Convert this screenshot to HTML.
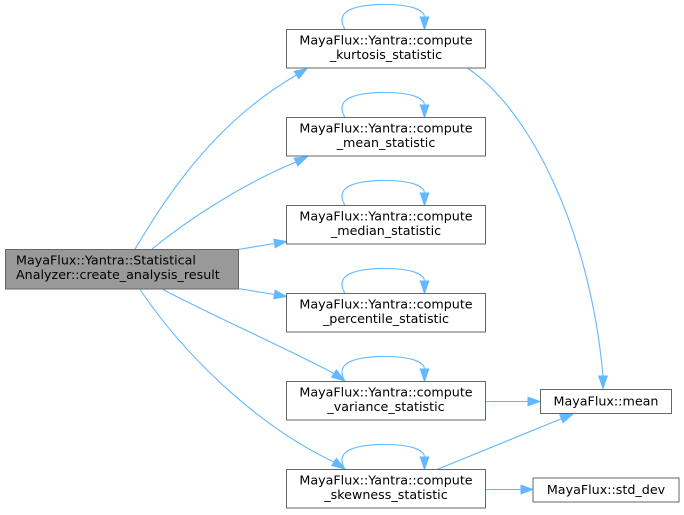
<!DOCTYPE html>
<html><head><meta charset="utf-8"><style>
html,body{margin:0;padding:0;background:#fff;}
svg{display:block;}
text{font-family:"DejaVu Sans","Liberation Sans",sans-serif;font-size:12.7px;fill:#000;}
.b{fill:#fff;stroke:#666;stroke-width:1;}
.e{fill:none;stroke:#63b8ff;stroke-width:1.1;}
.a{fill:#63b8ff;stroke:#63b8ff;stroke-width:1;}
</style></head><body>
<svg width="684" height="515" viewBox="0 0 684 515" xmlns="http://www.w3.org/2000/svg">
<!-- edges from root -->
<path class="e" d="M135,249 C163,203 210,125 296.5,75"/>
<polygon class="a" points="307,68.5 298.8,78.7 294.2,71.3"/>
<path class="e" d="M152,249 C185,222 240,185 296,162"/>
<polygon class="a" points="307.5,156.5 297.85,165.88 294.15,158.12"/>
<path class="e" d="M238,249.5 L274.5,243.5"/>
<polygon class="a" points="286.5,241.5 275.2,247.7 273.8,239.3"/>
<path class="e" d="M238,288.5 L274.5,294.5"/>
<polygon class="a" points="286.5,296.5 273.8,298.7 275.2,290.3"/>
<path class="e" d="M163,289.5 C205,312 290,350 334,373.5"/>
<polygon class="a" points="345,381 331.6,377.1 336.4,369.9"/>
<path class="e" d="M140,289.5 C182,352 255,425 334,462"/>
<polygon class="a" points="345,469 331.7,465.6 336.3,458.4"/>
<!-- right edges -->
<path class="e" d="M468,68.5 C530,110 590,230 603,376"/>
<polygon class="a" points="603,388.5 598.7,376 607.3,376"/>
<path class="e" d="M485.5,401.5 L528,401.5"/>
<polygon class="a" points="540,401.5 528,397.2 528,405.8"/>
<path class="e" d="M437,469.5 L561.4,418.7"/>
<polygon class="a" points="573,414 563,422.7 559.8,414.7"/>
<path class="e" d="M485.5,489.5 L521,489.5"/>
<polygon class="a" points="533,489.5 521,485.2 521,493.8"/>
<!-- self loops -->
<g>
<path class="e" d="M345,29.5 C335,12.5 350,4.5 385,4.5 C410,4.5 424,9.5 424.5,17"/>
<polygon class="a" points="424.5,29.5 420.2,17 428.8,17"/>
<path class="e" d="M345,117.5 C335,100.5 350,92.5 385,92.5 C410,92.5 424,97.5 424.5,105"/>
<polygon class="a" points="424.5,117.5 420.2,105 428.8,105"/>
<path class="e" d="M345,205.5 C335,188.5 350,180.5 385,180.5 C410,180.5 424,185.5 424.5,193"/>
<polygon class="a" points="424.5,205.5 420.2,193 428.8,193"/>
<path class="e" d="M345,293.5 C335,276.5 350,268.5 385,268.5 C410,268.5 424,273.5 424.5,281"/>
<polygon class="a" points="424.5,293.5 420.2,281 428.8,281"/>
<path class="e" d="M345,381.5 C335,364.5 350,356.5 385,356.5 C410,356.5 424,361.5 424.5,369"/>
<polygon class="a" points="424.5,381.5 420.2,369 428.8,369"/>
<path class="e" d="M345,469.5 C335,452.5 350,444.5 385,444.5 C410,444.5 424,449.5 424.5,457"/>
<polygon class="a" points="424.5,469.5 420.2,457 428.8,457"/>
</g>
<!-- root node -->
<rect x="5.5" y="249.5" width="233" height="39.5" fill="#999999" stroke="#666" stroke-width="1"/>
<text x="16" y="264.3">MayaFlux::Yantra::Statistical</text>
<text x="16" y="279">Analyzer::create_analysis_result</text>
<!-- middle nodes -->
<rect class="b" x="286.5" y="29.5" width="199" height="38.5"/>
<text x="386" y="44.5" text-anchor="middle">MayaFlux::Yantra::compute</text>
<text x="386" y="59" text-anchor="middle">_kurtosis_statistic</text>
<rect class="b" x="286.5" y="117.5" width="199" height="38.5"/>
<text x="386" y="132.5" text-anchor="middle">MayaFlux::Yantra::compute</text>
<text x="386" y="147" text-anchor="middle">_mean_statistic</text>
<rect class="b" x="286.5" y="205.5" width="199" height="38.5"/>
<text x="386" y="220.5" text-anchor="middle">MayaFlux::Yantra::compute</text>
<text x="386" y="235" text-anchor="middle">_median_statistic</text>
<rect class="b" x="286.5" y="293.5" width="199" height="38.5"/>
<text x="386" y="308.5" text-anchor="middle">MayaFlux::Yantra::compute</text>
<text x="386" y="323" text-anchor="middle">_percentile_statistic</text>
<rect class="b" x="286.5" y="381.5" width="199" height="38.5"/>
<text x="386" y="396.5" text-anchor="middle">MayaFlux::Yantra::compute</text>
<text x="386" y="411" text-anchor="middle">_variance_statistic</text>
<rect class="b" x="286.5" y="469.5" width="199" height="38.5"/>
<text x="386" y="484.5" text-anchor="middle">MayaFlux::Yantra::compute</text>
<text x="386" y="499" text-anchor="middle">_skewness_statistic</text>
<!-- right nodes -->
<rect class="b" x="540.5" y="389.5" width="131" height="24"/>
<text x="606" y="405.3" text-anchor="middle">MayaFlux::mean</text>
<rect class="b" x="533" y="478" width="146" height="24"/>
<text x="606" y="494" text-anchor="middle">MayaFlux::std_dev</text>
</svg>
</body></html>
